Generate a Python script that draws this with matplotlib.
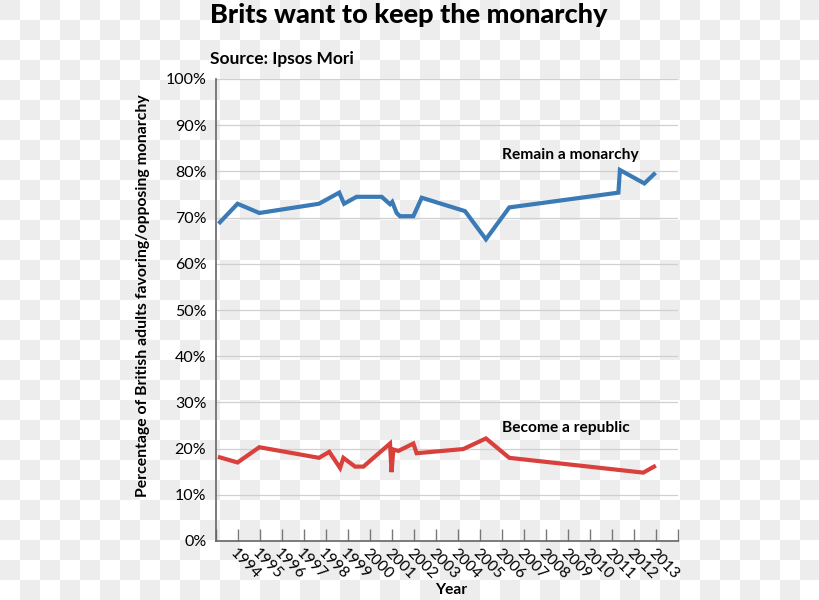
import numpy as np
import matplotlib
matplotlib.use('Agg')
import matplotlib.pyplot as plt

# Ipsos Mori polling
monarchy_x = [1993.18, 1993.98, 1994.97, 1997.68, 1998.6, 1998.82, 1999.39, 2000.53,
              2000.91, 2001.01, 2001.21, 2001.36, 2001.97, 2002.35, 2004.32, 2005.27,
              2006.33, 2011.29, 2011.36, 2012.47, 2012.91]
monarchy_y = [69, 73, 71, 73, 75.4, 73, 74.5, 74.5,
              72.9, 73.4, 71, 70.3, 70.3, 74.3, 71.4, 65.3,
              72.2, 75.4, 80.3, 77.4, 79.4]

republic_x = [1993.18, 1993.98, 1994.97, 1997.68, 1998.15, 1998.64, 1998.79, 1999.32,
              1999.7, 2000.91, 2000.98, 2001.06, 2001.29, 2001.97, 2002.12, 2004.24,
              2005.27, 2006.33, 2012.42, 2012.91]
republic_y = [18.1, 17, 20.3, 18, 19.3, 15.8, 18, 16.1,
              16.1, 21.1, 14.9, 19.8, 19.5, 21.1, 19, 19.9,
              22.2, 18, 14.8, 16.1]

years = list(range(1994, 2014))
y_ticks = list(range(0, 101, 10))

blue = '#3a7ab6'
red = '#d9403c'
font = 'Lato'

fig = plt.figure(figsize=(8.2, 6), dpi=100)

# transparent-background checkerboard seen behind the original image
h, w = 600, 820
rows, cols = np.indices((h, w))
board = np.where(((rows // 20) + (cols // 20)) % 2 == 0, 0.93, 1.0)
fig.figimage(np.dstack([board] * 3), xo=0, yo=0, origin='upper', zorder=-1)

ax = fig.add_axes([216 / 820, 59 / 600, 462 / 820, 462 / 600])
ax.set_facecolor('none')

ax.plot(monarchy_x, monarchy_y, color=blue, lw=3, solid_joinstyle='miter', zorder=3)
ax.plot(republic_x, republic_y, color=red, lw=3, solid_joinstyle='miter', zorder=3)

ax.text(2005.99, 83.5, 'Remain a monarchy', fontsize=11.2, fontweight='bold',
        family=font, ha='left', va='center')
ax.text(2005.99, 24.4, 'Become a republic', fontsize=11.2, fontweight='bold',
        family=font, ha='left', va='center')

ax.set_xlim(1993, 2014)
ax.set_ylim(0, 100)

ax.set_xticks(range(1993, 2015))
ax.set_xticklabels([''] + [str(y) for y in years] + [''], rotation=-45,
                   ha='left', va='top', rotation_mode='anchor',
                   fontsize=11.2, family=font)
ax.tick_params(axis='x', direction='in', length=8.5, width=1, color='#777777', pad=4)

ax.set_yticks(y_ticks)
ax.set_yticklabels([f'{v}%' for v in y_ticks], fontsize=11.5, family=font)
ax.tick_params(axis='y', length=0, pad=7)

ax.yaxis.grid(True, color='#d0d0d0', lw=0.9)
ax.set_axisbelow(True)
for side in ['top', 'right']:
    ax.spines[side].set_visible(False)
for side in ['left', 'bottom']:
    ax.spines[side].set_color('#666666')
    ax.spines[side].set_linewidth(1.2)

fig.text(210 / 820, 1 - 15 / 600, 'Brits want to keep the monarchy', fontsize=19.5,
         fontweight='black', family=font, ha='left', va='center')
fig.text(210 / 820, 1 - 59 / 600, 'Source: Ipsos Mori', fontsize=12.5,
         fontweight='bold', family=font, ha='left', va='center')
fig.text(143 / 820, 1 - 296 / 600, 'Percentage of British adults favoring/opposing monarchy',
         fontsize=11.3, fontweight='bold', family=font, rotation=90, ha='center', va='center')
fig.text(451 / 820, 1 - 590 / 600, 'Year', fontsize=11.2, fontweight='bold',
         family=font, ha='center', va='center')

fig.savefig('out.png', dpi=100)
